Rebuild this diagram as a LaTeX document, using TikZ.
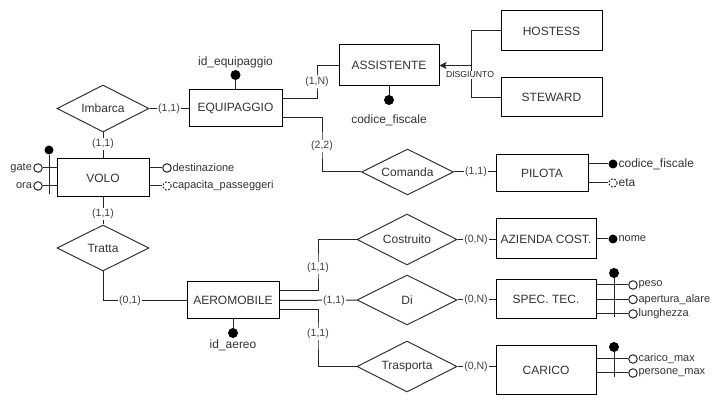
\documentclass[tikz,border=0pt]{standalone}
\usepackage{fontspec}
\setmainfont{Liberation Sans}
\usetikzlibrary{shapes.geometric,arrows.meta}
\newlength\pu \setlength\pu{0.75pt}
\begin{document}
\begin{tikzpicture}[x=0.75pt,y=-0.75pt,
  ent/.style={draw=black, line width=0.75pt, inner sep=0, font=\fontsize{9}{10}\selectfont, text=black!80},
  rel/.style={diamond, aspect=2, draw=black!80, line width=0.75pt, inner sep=0, font=\fontsize{9}{10}\selectfont, text=black!80},
  card/.style={fill=white, inner sep=0.6pt, font=\fontsize{7.9}{9}\selectfont, text=black!75},
  conn/.style={draw=black!85, line width=0.75pt},
  attr/.style={circle, draw=black!85, fill=white, line width=0.75pt, inner sep=0, minimum size=8.5\pu},
  optattr/.style={attr, dash pattern=on 1.3pt off 1.3pt},
  keyattr/.style={circle, fill=black, inner sep=0, minimum size=10\pu},
  atext/.style={inner sep=1pt, font=\fontsize{8.25}{9}\selectfont, text=black!80},
  ktext/.style={inner sep=1pt, font=\fontsize{9}{10}\selectfont, text=black!80},
  dtext/.style={fill=white, inner sep=0.5pt, font=\fontsize{6.5}{7}\selectfont, text=black!85},
]
\useasboundingbox (0,0) rectangle (722,402);

% entities
\node[ent, minimum width=93\pu, minimum height=37\pu] (eq) at (235.5,108.5) {EQUIPAGGIO};
\node[ent, minimum width=92\pu, minimum height=38\pu] (volo) at (103,178) {VOLO};
\node[ent, minimum width=92\pu, minimum height=37\pu] (aero) at (233,300.5) {AEROMOBILE};
\node[ent, minimum width=100\pu, minimum height=41\pu] (ass) at (389,65.5) {ASSISTENTE};
\node[ent, minimum width=101\pu, minimum height=40\pu] (host) at (551.5,31) {HOSTESS};
\node[ent, minimum width=101\pu, minimum height=39\pu] (stew) at (551.5,97.5) {STEWARD};
\node[ent, minimum width=92\pu, minimum height=37\pu] (pil) at (542,173.5) {PILOTA};
\node[ent, minimum width=100\pu, minimum height=40\pu] (az) at (546,239) {AZIENDA COST.};
\node[ent, minimum width=100\pu, minimum height=39\pu] (spec) at (546,299.5) {SPEC. TEC.};
\node[ent, minimum width=100\pu, minimum height=49\pu] (car) at (546,370.5) {CARICO};

% relationships
\node[rel, minimum width=92\pu, minimum height=47\pu] (imb) at (103,108.5) {Imbarca};
\node[rel, minimum width=92\pu, minimum height=46\pu] (tratta) at (103,248) {Tratta};
\node[rel, minimum width=92\pu, minimum height=46\pu] (com) at (407.5,172) {Comanda};
\node[rel, minimum width=100\pu, minimum height=51\pu] (cost) at (407,239.5) {Costruito};
\node[rel, minimum width=100\pu, minimum height=50\pu] (di) at (407,300) {Di};
\node[rel, minimum width=100\pu, minimum height=51\pu] (tras) at (407,366.5) {Trasporta};

% bend coordinates
\coordinate (k1) at (317,82);
\coordinate (k2) at (322,146);
\coordinate (k3) at (318,268);
\coordinate (k4) at (318,334);
\coordinate (jn) at (471,65.5);

% connectors
\draw[conn] (imb) -- (eq);
\draw[conn] (imb) -- (volo);
\draw[conn] (volo) -- (tratta);
\draw[conn] (tratta.south) |- (aero.west);
\draw[conn] ([yshift=9.5\pu]eq.east) -| (k1) |- (ass.west);
\draw[conn] ([yshift=-9.5\pu]eq.east) -| (k2) |- (com.west);
\draw[conn] (com.east) -- (com.east -| pil.west);
\draw[conn] ([yshift=9.5\pu]aero.east) -| (k3) |- (cost.west);
\draw[conn] (aero.east) -- (di.west);
\draw[conn] ([yshift=-9.5\pu]aero.east) -| (k4) |- (tras.west);
\draw[conn] (cost.east) -- (cost.east -| az.west);
\draw[conn] (di.east) -- (di.east -| spec.west);
\draw[conn] (tras.east) -- (tras.east -| car.west);
\draw[conn] (host.west) -| (jn);
\draw[conn] (stew.west) -| (jn);
\draw[conn, -{Stealth[length=5.25pt, width=5.25pt, inset=1.1pt]}] (jn) -- (ass.east);

% cardinalities
\node[card] (c1) at (169,108.5) {(1,1)};
\node[card] (c2) at (103,144) {(1,1)};
\node[card] (c3) at (103,214) {(1,1)};
\node[card] (c4) at (130,301) {(0,1)};
\node[card] (c5) at (k1) {(1,N)};
\node[card] (c6) at (k2) {(2,2)};
\node[card] (c7) at (476,172) {(1,1)};
\node[card] (c8) at (k3) {(1,1)};
\node[card] (c9) at (334,300.5) {(1,1)};
\node[card] (c10) at (k4) {(1,1)};
\node[card] (c11) at (476,239.5) {(0,N)};
\node[card] (c12) at (476,300) {(0,N)};
\node[card] (c13) at (476,366.5) {(0,N)};
\node[dtext] (dis) at (470,75) {DISGIUNTO};

% identifiers of single entities
\node[keyattr] (eqk) at (235.5,75) {};
\draw[conn] (eq.north) -- (eqk);
\node[ktext] (eqkt) at (235.5,62) {id\_equipaggio};

\node[keyattr] (assk) at (389,100) {};
\draw[conn] (ass.south) -- (assk);
\node[ktext] (asskt) at (389,120) {codice\_fiscale};

\node[keyattr] (aerok) at (233,333) {};
\draw[conn] (aero.south) -- (aerok);
\node[ktext] (aerokt) at (233,345) {id\_aereo};

% PILOTA
\node[keyattr, minimum size=9\pu] (pilk) at (613,164) {};
\draw[conn] (pil.east |- pilk) -- (pilk);
\node[ktext, anchor=west] (pilkt) at (617,164) {codice\_fiscale};
\node[optattr] (pile) at (613,183) {};
\draw[conn] (pil.east |- pile) -- (pile);
\node[ktext, anchor=west] (pilet) at (617,183) {eta};

% AZIENDA
\node[keyattr, minimum size=9\pu] (azk) at (613,239) {};
\draw[conn] (az.east |- azk) -- (azk);
\node[atext, anchor=west] (azkt) at (617,239) {nome};

% VOLO
\node[keyattr, minimum size=9\pu] (volok) at (49,150) {};
\coordinate (voloe) at (49,194);
\draw[conn] (volok) -- (voloe);
\node[attr] (vg) at (38,168) {};
\node[attr] (vo) at (38,186) {};
\draw[conn] (volo.west |- vg) -- (vg);
\draw[conn] (volo.west |- vo) -- (vo);
\node[atext, anchor=east] (vgt) at (33.5,168) {gate};
\node[atext, anchor=east] (vot) at (33.5,186) {ora};
\node[attr] (vd) at (167,168) {};
\node[optattr] (vc) at (167,186) {};
\draw[conn] (volo.east |- vd) -- (vd);
\draw[conn] (volo.east |- vc) -- (vc);
\node[atext, anchor=west] (vdt) at (171,168) {destinazione};
\node[atext, anchor=west] (vct) at (171,186) {capacita\_passeggeri};

% SPEC. TEC.
\node[keyattr] (speck) at (614,273) {};
\coordinate (spece) at (614,317);
\draw[conn] (speck) -- (spece);
\node[attr] (sp1) at (633,285) {};
\node[attr] (sp2) at (633,299.5) {};
\node[attr] (sp3) at (633,314) {};
\draw[conn] (spec.east |- sp1) -- (sp1);
\draw[conn] (spec.east |- sp2) -- (sp2);
\draw[conn] (spec.east |- sp3) -- (sp3);
\node[atext, anchor=west] (sp1t) at (637,285) {peso};
\node[atext, anchor=west] (sp2t) at (637,299.5) {apertura\_alare};
\node[atext, anchor=west] (sp3t) at (637,314) {lunghezza};

% CARICO
\node[keyattr] (cark) at (614,347) {};
\coordinate (care) at (614,377);
\draw[conn] (cark) -- (care);
\node[attr] (ca1) at (633,359) {};
\node[attr] (ca2) at (633,373) {};
\draw[conn] (car.east |- ca1) -- (ca1);
\draw[conn] (car.east |- ca2) -- (ca2);
\node[atext, anchor=west] (ca1t) at (637,359) {carico\_max};
\node[atext, anchor=west] (ca2t) at (637,373) {persone\_max};
\end{tikzpicture}
\end{document}
